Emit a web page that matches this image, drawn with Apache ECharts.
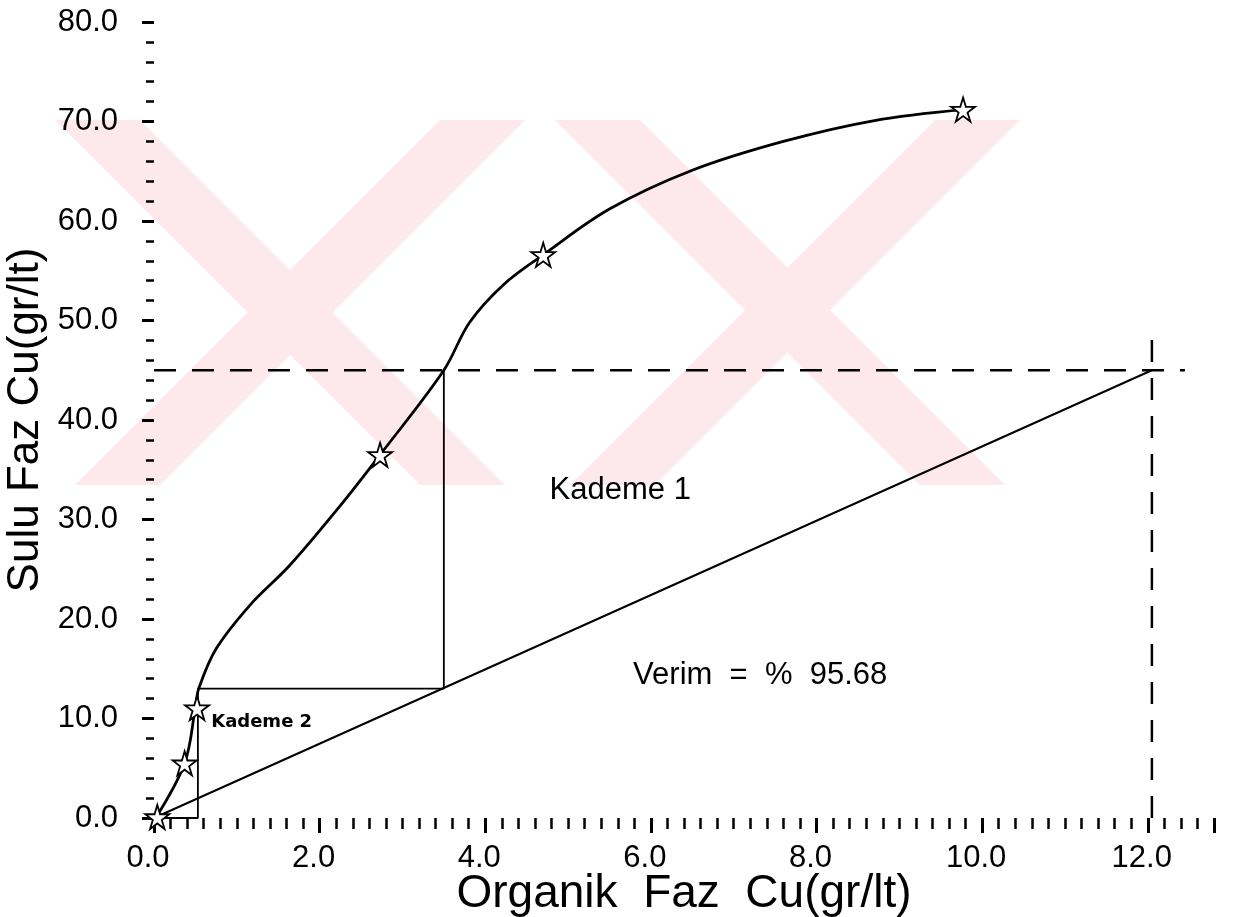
<!DOCTYPE html>
<html><head><meta charset="utf-8">
<script src="https://cdn.jsdelivr.net/npm/echarts@6/dist/echarts.min.js"></script>
<style>html,body{margin:0;padding:0;background:#fff}#c{width:1250px;height:917px}</style>
</head><body><div id="c"></div>
<script>
// ---- data ----
const curveX = [0.02, 0.37, 0.50, 0.54, 0.75, 1.16, 1.64, 2.25, 2.73, 3.50, 3.81, 4.22, 4.70, 5.50, 6.50, 7.60, 8.70, 9.77];
const curveY = [0.0, 5.5, 11.1, 13.0, 17.0, 21.4, 25.4, 31.4, 36.5, 45.0, 49.8, 53.6, 56.6, 61.2, 65.1, 68.0, 70.1, 71.2];
const starX = [0.04, 0.37, 0.52, 2.73, 4.70, 9.77];
const starY = [0.1, 5.5, 11.05, 36.5, 56.6, 71.2];
const operX = [0, 12.05];
const operY = [0, 45];
const stepX = [0, 0.53, 0.53, 3.50, 3.50];
const stepY = [0, 0, 13.0, 13.0, 45.0];
const feedHX = [0, 12.45];
const feedHY = [45, 45];
const feedVX = [12.05, 12.05];
const feedVY = [0, 48.8];
const annoX = [5.63, 7.32, 1.30];
const annoY = [32.9, 14.3, 9.65];
const annoText = ['Kademe 1', 'Verim  =  %  95.68', 'Kademe 2'];
const xTitle = 'Organik  Faz  Cu(gr/lt)';
const yTitle = 'Sulu Faz Cu(gr/lt)';

const FONT = 'Liberation Sans';
const zip = (a, b) => a.map((v, i) => [v, b[i]]);
const isMul = (v, m) => Math.abs(v / m - Math.round(v / m)) < 1e-6;

const annoStyles = [
  {fontSize: 31, fontWeight: 'normal', family: 'Liberation Sans'},
  {fontSize: 31, fontWeight: 'normal', family: 'Liberation Sans'},
  {fontSize: 18, fontWeight: 'bold', family: 'DejaVu Sans'}
];

const pink = '#fde9ec';
function band(tl, tr, bl, br) {
  return {type: 'polygon', z: -10, silent: true,
    shape: {points: [[tl, 120], [tr, 120], [br, 485], [bl, 485]]},
    style: {fill: pink}};
}

const chart = echarts.init(document.getElementById('c'), null, {renderer: 'canvas'});
const option = {
  backgroundColor: '#fff',
  animation: false,
  grid: {left: 154, right: 36, top: 22, bottom: 99, containLabel: false, outerBoundsMode: 'none'},
  graphic: [
    band(55, 140, 420, 505),
    band(440, 525, 75, 160),
    band(555, 640, 920, 1005),
    band(935, 1020, 570, 655)
  ],
  xAxis: [
    {type: 'value', min: 0, max: 12.8, interval: 0.2, position: 'bottom',
     axisLine: {show: false}, splitLine: {show: false},
     axisTick: {show: true, length: 11, lineStyle: {color: '#000', width: 2.5}},
     axisLabel: {formatter: v => isMul(v, 2) ? v.toFixed(1) : '', margin: 25, fontSize: 31,
                 fontFamily: FONT, color: '#000', padding: [0, 12, 0, 0]},
     name: xTitle, nameLocation: 'middle', nameGap: 53, nameMoveOverlap: false,
     nameTextStyle: {fontSize: 46, fontFamily: FONT, color: '#000'}},
    {type: 'value', min: 0, max: 12.8, interval: 2, position: 'bottom', offset: 0,
     axisLine: {show: false}, splitLine: {show: false},
     axisTick: {show: true, length: 15, lineStyle: {color: '#000', width: 3}},
     axisLabel: {show: false}}
  ],
  yAxis: [
    {type: 'value', min: 0, max: 80, interval: 2, position: 'left',
     axisLine: {show: false}, splitLine: {show: false},
     axisTick: {show: true, length: 8, lineStyle: {color: '#000', width: 2.5}},
     axisLabel: {formatter: v => isMul(v, 10) ? v.toFixed(1) : '', margin: 36, fontSize: 31,
                 fontFamily: FONT, color: '#000'},
     name: yTitle, nameLocation: 'middle', nameGap: 106, nameRotate: 90, nameMoveOverlap: false,
     nameTextStyle: {fontSize: 44, fontFamily: FONT, color: '#000'}},
    {type: 'value', min: 0, max: 80, interval: 10, position: 'left', offset: 0,
     axisLine: {show: false}, splitLine: {show: false},
     axisTick: {show: true, length: 12, lineStyle: {color: '#000', width: 3}},
     axisLabel: {show: false}}
  ],
  series: [
    {type: 'line', name: 'denge', data: zip(curveX, curveY), smooth: 0.35,
     showSymbol: false, symbol: 'none', lineStyle: {color: '#000', width: 2.8}, z: 4},
    {type: 'line', name: 'isletme', data: zip(operX, operY), showSymbol: false, symbol: 'none',
     lineStyle: {color: '#000', width: 2}, z: 3},
    {type: 'line', name: 'kademe', data: zip(stepX, stepY), showSymbol: false, symbol: 'none',
     lineStyle: {color: '#000', width: 1.8}, z: 3},
    {type: 'line', name: 'besleme-h', data: zip(feedHX, feedHY), showSymbol: false, symbol: 'none',
     lineStyle: {color: '#000', width: 2.5, type: [22, 16]}, z: 3},
    {type: 'line', name: 'besleme-v', data: zip(feedVX, feedVY), showSymbol: false, symbol: 'none',
     lineStyle: {color: '#000', width: 2.5, type: [22, 16]}, z: 3},
    {type: 'scatter', name: 'deney',
     data: zip(starX, starY),
     symbol: 'path://M50,0 L61,35 L98,35 L68,57 L79,91 L50,70 L21,91 L32,57 L2,35 L39,35 Z',
     symbolSize: 24, itemStyle: {color: '#fff', borderColor: '#000', borderWidth: 1.8, opacity: 1}, z: 6},
    {type: 'scatter', name: 'etiket', symbolSize: 0, z: 7, itemStyle: {opacity: 1},
     data: annoX.map((x, i) => ({value: [x, annoY[i]],
       label: {show: true, position: [0, 0], align: 'center', verticalAlign: 'middle',
               formatter: annoText[i], color: '#000', opacity: 1,
               fontFamily: annoStyles[i].family, fontSize: annoStyles[i].fontSize, fontWeight: annoStyles[i].fontWeight}}))}
  ]
};
chart.setOption(option);
</script>
</body></html>
